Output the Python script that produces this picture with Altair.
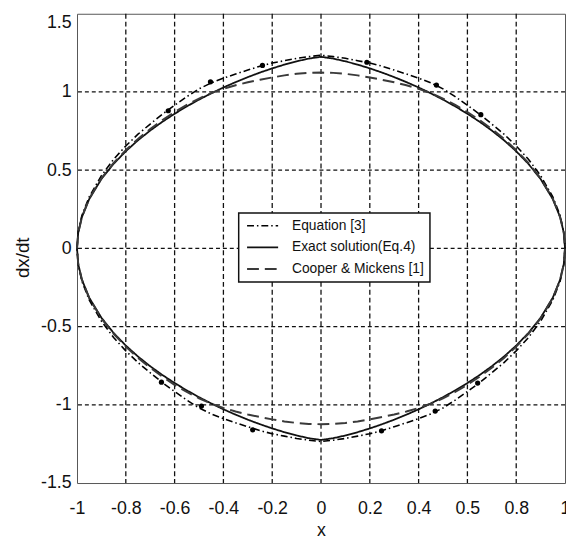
import json
import altair as alt
import pandas as pd

# ---------------- data ----------------
x_pts = [-1, -0.995, -0.98, -0.95, -0.9, -0.85, -0.8, -0.75, -0.7, -0.65, -0.6,
         -0.55, -0.5, -0.45, -0.4, -0.35, -0.3, -0.25, -0.2, -0.15, -0.1, -0.05,
         0, 0.05, 0.1, 0.15, 0.2, 0.25, 0.3, 0.35, 0.4, 0.45, 0.5, 0.55, 0.6,
         0.65, 0.7, 0.75, 0.8, 0.85, 0.9, 0.95, 0.98, 0.995, 1]

exact_upper = [0, 0.0999, 0.1997, 0.3149, 0.4435, 0.5406, 0.6212, 0.6913, 0.7535, 0.8096, 0.8608,
               0.9078, 0.9512, 0.9913, 1.0286, 1.0630, 1.0949, 1.1242, 1.1509, 1.1749, 1.1960, 1.2134,
               1.2247, 1.2134, 1.1960, 1.1749, 1.1509, 1.1242, 1.0949, 1.0630, 1.0286, 0.9913, 0.9512,
               0.9078, 0.8608, 0.8096, 0.7535, 0.6913, 0.6212, 0.5406, 0.4435, 0.3149, 0.1997, 0.0999, 0]
exact_lower = [0, -0.0999, -0.1997, -0.3149, -0.4435, -0.5406, -0.6212, -0.6913, -0.7535, -0.8096, -0.8608,
               -0.9078, -0.9512, -0.9913, -1.0286, -1.0630, -1.0949, -1.1242, -1.1509, -1.1749, -1.1960, -1.2134,
               -1.2247, -1.2134, -1.1960, -1.1749, -1.1509, -1.1242, -1.0949, -1.0630, -1.0286, -0.9913, -0.9512,
               -0.9078, -0.8608, -0.8096, -0.7535, -0.6913, -0.6212, -0.5406, -0.4435, -0.3149, -0.1997, -0.0999, 0]

eq3_upper = [0, 0.105, 0.21, 0.33, 0.465, 0.57, 0.655, 0.73, 0.795, 0.858, 0.915,
             0.97, 1.02, 1.058, 1.088, 1.115, 1.14, 1.165, 1.185, 1.2, 1.215, 1.226,
             1.235, 1.226, 1.215, 1.2, 1.185, 1.165, 1.14, 1.115, 1.088, 1.058, 1.02,
             0.97, 0.915, 0.858, 0.795, 0.73, 0.655, 0.57, 0.465, 0.33, 0.21, 0.105, 0]
eq3_lower = [0, -0.105, -0.21, -0.33, -0.465, -0.57, -0.655, -0.73, -0.795, -0.858, -0.915,
             -0.97, -1.02, -1.058, -1.088, -1.115, -1.14, -1.165, -1.185, -1.2, -1.215, -1.226,
             -1.235, -1.226, -1.215, -1.2, -1.185, -1.165, -1.14, -1.115, -1.088, -1.058, -1.02,
             -0.97, -0.915, -0.858, -0.795, -0.73, -0.655, -0.57, -0.465, -0.33, -0.21, -0.105, 0]

cooper_upper = [0, 0.1, 0.2, 0.318, 0.448, 0.546, 0.628, 0.70, 0.763, 0.82, 0.872,
                0.918, 0.958, 0.993, 1.02, 1.043, 1.062, 1.078, 1.093, 1.106, 1.116, 1.122,
                1.124, 1.122, 1.116, 1.106, 1.093, 1.078, 1.062, 1.043, 1.02, 0.993, 0.958,
                0.918, 0.872, 0.82, 0.763, 0.70, 0.628, 0.546, 0.448, 0.318, 0.2, 0.1, 0]
cooper_lower = [0, -0.1, -0.2, -0.318, -0.448, -0.546, -0.628, -0.70, -0.763, -0.82, -0.872,
                -0.918, -0.958, -0.993, -1.02, -1.043, -1.062, -1.078, -1.093, -1.106, -1.116, -1.122,
                -1.124, -1.122, -1.116, -1.106, -1.093, -1.078, -1.062, -1.043, -1.02, -0.993, -0.958,
                -0.918, -0.872, -0.82, -0.763, -0.70, -0.628, -0.546, -0.448, -0.318, -0.2, -0.1, 0]

# markers on the "Equation [3]" curve
dot_x = [-0.626, -0.453, -0.24, 0.188, 0.473, 0.655, -0.654, -0.49, -0.28, 0.248, 0.468, 0.642]
dot_y = [0.88, 1.065, 1.17, 1.19, 1.044, 0.855, -0.855, -1.008, -1.16, -1.166, -1.04, -0.861]

series_names = ["Equation [3]", "Exact solution(Eq.4)", "Cooper & Mickens [1]"]

x_ticks = [-1, -0.8, -0.6, -0.4, -0.2, 0, 0.2, 0.4, 0.6, 0.8, 1]
x_tick_labels = ["-1", "-0.8", "-0.6", "-0.4", "-0.2", "0", "0.2", "0.4", "0.5", "0.8", "1"]
y_ticks = [-1.5, -1, -0.5, 0, 0.5, 1, 1.5]
y_tick_labels = ["-1.5", "-1", "-0.5", "0", "0.5", "1", "1.5"]

grid_x = [-0.8, -0.6, -0.4, -0.2, 0, 0.2, 0.4, 0.6, 0.8]
grid_y = [-1, -0.5, 0, 0.5, 1]

# ---------------- tables ----------------
rows = []
n = len(x_pts)
for name, up, lo in [(series_names[0], eq3_upper, eq3_lower),
                     (series_names[1], exact_upper, exact_lower),
                     (series_names[2], cooper_upper, cooper_lower)]:
    for i in range(n):
        rows.append({"series": name, "x": x_pts[i], "y": up[i], "k": i})
    for i in range(n):
        j = n - 1 - i
        rows.append({"series": name, "x": x_pts[j], "y": lo[j], "k": n + i})
curves = pd.DataFrame(rows)
dots = pd.DataFrame({"x": dot_x, "y": dot_y})
gx = pd.DataFrame({"x": grid_x})
gy = pd.DataFrame({"y": grid_y})

FONT = "Liberation Sans"
xscale = alt.Scale(domain=[-1, 1], nice=False, zero=False)
yscale = alt.Scale(domain=[-1.5, 1.5], nice=False, zero=False)

x_axis = alt.Axis(
    values=x_ticks,
    labelExpr=json.dumps(x_tick_labels) + "[round((datum.value + 1) * 5)]",
    grid=False, ticks=False, domain=False, labelFlush=False,
    labelFontSize=18, labelFont=FONT, labelColor="#111", labelPadding=17,
    title="x", titleFont=FONT, titleFontSize=18, titleFontWeight="normal",
    titleColor="#111", titleY=53, titleBaseline="alphabetic",
)
y_axis = alt.Axis(
    values=y_ticks,
    labelExpr=json.dumps(y_tick_labels) + "[round((datum.value + 1.5) * 2)]",
    grid=False, ticks=False, domain=False, labelFlush=False,
    labelFontSize=18, labelFont=FONT, labelColor="#111", labelPadding=6,
    labelBaseline={"condition": {"test": "datum.value > 1.4", "value": "top"}, "value": "middle"},
    title="dx/dt", titleFont=FONT, titleFontSize=19, titleFontWeight="normal",
    titleColor="#111", titleX=-49, titleY=247, titleBaseline="alphabetic", titleAngle=-90,
)

vgrid = alt.Chart(gx).mark_rule(color="#111", strokeWidth=1.3, strokeDash=[5, 3]).encode(
    x=alt.X("x:Q", scale=xscale, axis=x_axis)
)
hgrid = alt.Chart(gy).mark_rule(color="#111", strokeWidth=1.3, strokeDash=[4, 3]).encode(
    y=alt.Y("y:Q", scale=yscale, axis=y_axis)
)

lines = alt.Chart(curves).mark_line(interpolate="linear").encode(
    x=alt.X("x:Q", scale=xscale),
    y=alt.Y("y:Q", scale=yscale),
    order="k:Q",
    color=alt.Color("series:N",
                    scale=alt.Scale(domain=series_names, range=["#000000", "#111111", "#3a3a3a"]),
                    legend=alt.Legend(title=None)),
    strokeDash=alt.StrokeDash("series:N",
                              scale=alt.Scale(domain=series_names,
                                              range=[[7, 3, 1.5, 3], [1, 0], [12, 6]]),
                              legend=alt.Legend(title=None)),
    strokeWidth=alt.StrokeWidth("series:N",
                                scale=alt.Scale(domain=series_names, range=[1.6, 2.0, 1.6]),
                                legend=None),
)

points = alt.Chart(dots).mark_point(filled=True, color="#000", size=28, opacity=1).encode(
    x=alt.X("x:Q", scale=xscale),
    y=alt.Y("y:Q", scale=yscale),
)

chart = alt.layer(vgrid, hgrid, lines, points).properties(
    width=495, height=476,
    padding={"left": 70, "top": 2, "right": 1, "bottom": 58},
    autosize=alt.AutoSizeParams(type="none"),
).configure_view(
    stroke="#555", strokeWidth=1
).configure_legend(
    orient="none", legendX=164, legendY=202,
    fillColor="white", strokeColor="#111", strokeWidth=1.5, padding=6, cornerRadius=0,
    labelFont=FONT, labelFontSize=14, labelColor="#111", labelLimit=400,
    symbolType="M-1,0H6", symbolSize=81, symbolStrokeWidth=1.6,
    rowPadding=8, labelOffset=34,
)

chart.save("out.html", embed_options={"renderer": "svg", "actions": False})
